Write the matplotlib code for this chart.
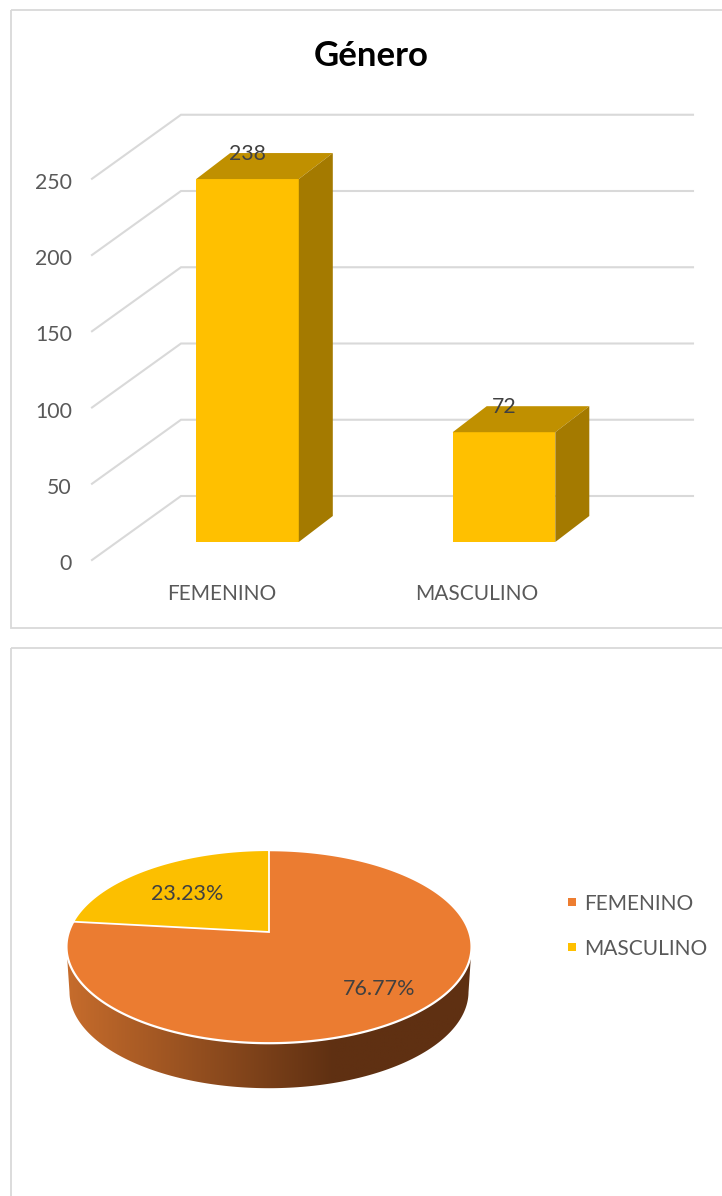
import numpy as np
import matplotlib.pyplot as plt
from matplotlib.colors import LinearSegmentedColormap
from matplotlib.patches import Polygon, Rectangle
from matplotlib.path import Path

plt.rcParams['font.family'] = ['Lato', 'DejaVu Sans']

categories = ["FEMENINO", "MASCULINO"]
counts = [238, 72]
percents = [76.77, 23.23]
y_ticks = [0, 50, 100, 150, 200, 250]

W, H = 722, 1196
GRID = "#D9D9D9"
TICK = "#595959"
LABEL = "#404040"

fig = plt.figure(figsize=(W / 100, H / 100), dpi=100)

# --------------------------
# bar chart
# --------------------------
PX_CAT = 256.5    # pixels per category
PX_VAL = 1.525    # pixels per unit
X0 = 247.5        # pixel of first category
Y0 = 542          # pixel of value 0 on the bar front

ax = fig.add_axes([0, 0, 1, 1])
ax.set_xlim(-X0 / PX_CAT, (W - X0) / PX_CAT)
ax.set_ylim((Y0 - H) / PX_VAL, Y0 / PX_VAL)
ax.axis('off')


def cx(px):
    return px / PX_CAT


def vy(px):
    return px / PX_VAL


# floor and wall lines
gx_front = -X0 / PX_CAT + cx(92)
gx_back = -X0 / PX_CAT + cx(181)
gx_end = -X0 / PX_CAT + cx(693)
for t in y_ticks:
    ax.plot([gx_front, gx_back, gx_end],
            [t - vy(18), t + vy(46), t + vy(46)],
            color=GRID, lw=1.5, zorder=1, solid_joinstyle='miter')
    ax.text(-X0 / PX_CAT + cx(72), t - vy(22), str(t), ha='right', va='center',
            fontsize=15.3, color=TICK)

bar_w = 0.4
dx, dy = cx(34), vy(26)
xs = np.arange(len(categories))
ax.bar(xs, counts, width=bar_w, color="#FFC000", zorder=3)
label_x = [222, 477]
for x, c in zip(xs, counts):
    l, r = x - bar_w / 2, x + bar_w / 2
    ax.add_patch(Polygon([(l, c), (r, c), (r + dx, c + dy), (l + dx, c + dy)],
                         closed=True, fc="#C09000", ec="none", zorder=3))
    ax.add_patch(Polygon([(r, 0), (r + dx, dy), (r + dx, c + dy), (r, c)],
                         closed=True, fc="#A47A00", ec="none", zorder=3))
    ax.text(x, c + dy - vy(1), str(c), ha='center', va='center', fontsize=15.3,
            color=LABEL, zorder=4)
    ax.text(-X0 / PX_CAT + cx(label_x[x]), -vy(52), categories[x], ha='center',
            va='center', fontsize=15, color=TICK)
ax.text(-X0 / PX_CAT + cx(371), vy(Y0 - 56), "Género", ha='center', va='center',
        fontsize=25, fontweight='bold', color="black")

# --------------------------
# pie chart, pixel units
# --------------------------
px = fig.add_axes([0, 0, 1, 1], facecolor='none')
px.set_xlim(0, W)
px.set_ylim(H, 0)
px.axis('off')

# chart frames
px.add_patch(Rectangle((11, 10), W, 618, fc='none', ec=GRID, lw=1.3))
px.add_patch(Rectangle((11, 648), W, H, fc='none', ec=GRID, lw=1.3))

PIE_X, PIE_Y = 269, 932
A, K, B = 94.3, 0.152, 200.2


def project(theta):
    # angle from 12 o'clock, clockwise, with perspective tilt
    u, v = np.sin(theta), np.cos(theta)
    d = 1 + K * v
    return np.column_stack([PIE_X + B * u / d, PIE_Y - A * v / d])


# side of the pie with a left to right gradient
t = np.linspace(0, 2 * np.pi, 361)
rim = project(t)
left_i, right_i = np.argmin(rim[:, 0]), np.argmax(rim[:, 0])
lower = rim[right_i:left_i + 1]
low_shift = np.column_stack([269 + (lower[:, 0] - 269) * 0.985, lower[:, 1] + 45])
side_pts = np.vstack([lower, low_shift[::-1]])
side_path = Path(np.vstack([side_pts, side_pts[0]]), closed=True)
cmap = LinearSegmentedColormap.from_list("side", ["#C66C2C", "#5F3012", "#5F3012"])
grad = np.linspace(0, 1, 256).reshape(1, -1)
im = px.imshow(grad, extent=(67, 600, 1100, 940), cmap=cmap, aspect='auto', zorder=1)
im.set_clip_path(side_path, transform=px.transData)
px.set_xlim(0, W)
px.set_ylim(H, 0)

# top of the pie, wedges from the percentages
px.add_patch(Polygon(rim, closed=True, fc="#EB7C31", ec="white", lw=1.6, zorder=2))
yellow = np.linspace(-2 * np.pi * percents[1] / 100, 0, 100)
wedge = np.vstack([[PIE_X, PIE_Y], project(yellow)])
px.add_patch(Polygon(wedge, closed=True, fc="#FCBF00", ec="white", lw=1.3, zorder=3))

px.text(379, 989, f"{percents[0]:.2f}%", ha='center', va='center', fontsize=15.5,
        color=LABEL, zorder=4)
px.text(187, 894, f"{percents[1]:.2f}%", ha='center', va='center', fontsize=15.5,
        color=LABEL, zorder=4)

# legend
for name, col, ly, ty in zip(categories, ["#ED7D31", "#FFC000"], [902, 947], [904, 949]):
    px.add_patch(Rectangle((568, ly - 4), 8, 8, fc=col, ec='none'))
    px.text(584, ty, name, ha='left', va='center', fontsize=15, color=TICK)

fig.savefig("out.png", dpi=100)
